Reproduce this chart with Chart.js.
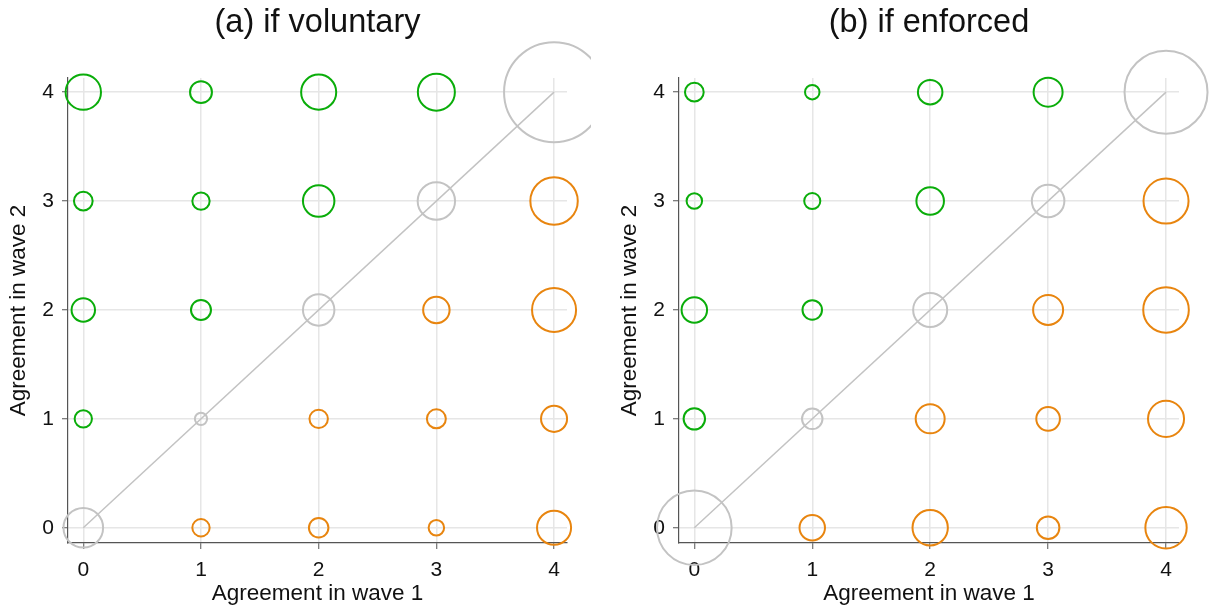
<!DOCTYPE html>
<html>
<head>
<meta charset="utf-8">
<script src="https://cdn.jsdelivr.net/npm/chart.js@4.4.1/dist/chart.umd.min.js"></script>
<style>
  html, body { margin: 0; padding: 0; background: #fff; }
  #wrap { position: relative; width: 1214px; height: 609px; }
  canvas { position: absolute; top: 0; }
</style>
</head>
<body>
<div id="wrap">
  <canvas id="panelA" width="607" height="609" style="left:0px"></canvas>
  <canvas id="panelB" width="603" height="609" style="left:611px"></canvas>
</div>
<script>
// answer levels (both axes) and tick labels
const waveLevels = [0, 1, 2, 3, 4];
const tickValues = [0, 1, 2, 3, 4];
const panelTitles = ['(a) if voluntary', '(b) if enforced'];
const xTitle = 'Agreement in wave 1';
const yTitle = 'Agreement in wave 2';

// relative marker weights, rows = wave 2 level (0..4), columns = wave 1 level (0..4)
const voluntaryWeights = [
  [15.7, 3.0, 3.8, 2.4, 11.6],
  [3.0, 1.5, 3.4, 3.6, 6.8],
  [5.5, 4.0, 9.9, 7.0, 19.4],
  [3.5, 3.0, 9.9, 14.0, 22.5],
  [12.5, 4.8, 12.3, 13.7, 100.0]
];
const enforcedWeights = [
  [55.7, 6.5, 12.5, 5.1, 17.1],
  [4.6, 4.2, 8.4, 5.6, 13.0],
  [6.5, 3.8, 11.6, 9.0, 20.8],
  [2.4, 2.6, 7.6, 10.6, 20.3],
  [3.5, 2.1, 6.0, 8.4, 68.9]
];

const FONT = '"Liberation Sans", Arial, sans-serif';
const GREEN = '#0aad0a';
const GRAY = '#c3c3c3';
const ORANGE = '#e8850f';

// split the grid into above / on / below the diagonal
function bubbleSets(weights) {
  const up = [], diag = [], down = [];
  weights.forEach(function(row, yi) {
    row.forEach(function(w, xi) {
      const pt = { x: waveLevels[xi], y: waveLevels[yi], r: 5 * Math.sqrt(w) };
      if (yi > xi) up.push(pt);
      else if (yi === xi) diag.push(pt);
      else down.push(pt);
    });
  });
  return [up, diag, down];
}

function makePanel(canvasId, title, weights, padRight, clipRight) {
  const sets = bubbleSets(weights);
  const clip = { left: false, top: false, right: clipRight, bottom: false };
  const first = waveLevels[0], last = waveLevels[waveLevels.length - 1];

  const ringStyle = function(data, color) {
    return {
      type: 'bubble',
      data: data,
      backgroundColor: 'rgba(0,0,0,0)',
      borderColor: color,
      borderWidth: 2,
      hoverBorderWidth: 2,
      clip: clip,
      order: 0
    };
  };

  new Chart(document.getElementById(canvasId), {
    type: 'bubble',
    data: {
      datasets: [
        {
          type: 'line',
          data: [{ x: first, y: first }, { x: last, y: last }],
          borderColor: GRAY,
          borderWidth: 1.5,
          pointRadius: 0,
          fill: false,
          order: 1
        },
        ringStyle(sets[0], GREEN),
        ringStyle(sets[1], GRAY),
        ringStyle(sets[2], ORANGE)
      ]
    },
    options: {
      responsive: false,
      animation: false,
      layout: { autoPadding: false, padding: { left: 0, right: padRight, top: 0, bottom: 4 } },
      plugins: {
        legend: { display: false },
        tooltip: { enabled: false },
        title: {
          display: true,
          text: title,
          fullSize: false,
          color: '#111',
          font: { family: FONT, size: 32.5, weight: 'normal', lineHeight: 1.2 },
          padding: { top: 4, bottom: 35 }
        }
      },
      scales: {
        x: {
          type: 'linear',
          min: -0.13,
          max: 4.11,
          afterBuildTicks: function(s) { s.ticks = tickValues.map(function(v) { return { value: v }; }); },
          afterFit: function(s) { s.height = 62; },
          grid: { color: '#e6e6e6', lineWidth: 1.5, tickLength: 6, tickColor: '#555', tickWidth: 1 },
          border: { color: '#555', width: 1.2 },
          ticks: { padding: 11, color: '#111', font: { family: FONT, size: 21, lineHeight: 1 } },
          title: {
            display: true, text: xTitle, color: '#111',
            font: { family: FONT, size: 22.5, lineHeight: 1 },
            padding: { top: 1, bottom: 0 }
          }
        },
        y: {
          type: 'linear',
          min: -0.14,
          max: 4.13,
          afterBuildTicks: function(s) { s.ticks = tickValues.map(function(v) { return { value: v }; }); },
          afterFit: function(s) { s.width = 68; },
          grid: { color: '#e6e6e6', lineWidth: 1.5, tickLength: 6, tickColor: '#555', tickWidth: 1 },
          border: { color: '#555', width: 1.2 },
          ticks: { padding: 8, color: '#111', font: { family: FONT, size: 21, lineHeight: 1 } },
          title: {
            display: true, text: yTitle, color: '#111',
            font: { family: FONT, size: 22.5, lineHeight: 1 },
            padding: { top: 8, bottom: 0 }
          }
        }
      }
    }
  });
}

makePanel('panelA', panelTitles[0], voluntaryWeights, 40, 24);
makePanel('panelB', panelTitles[1], enforcedWeights, 35, false);
</script>
</body>
</html>
